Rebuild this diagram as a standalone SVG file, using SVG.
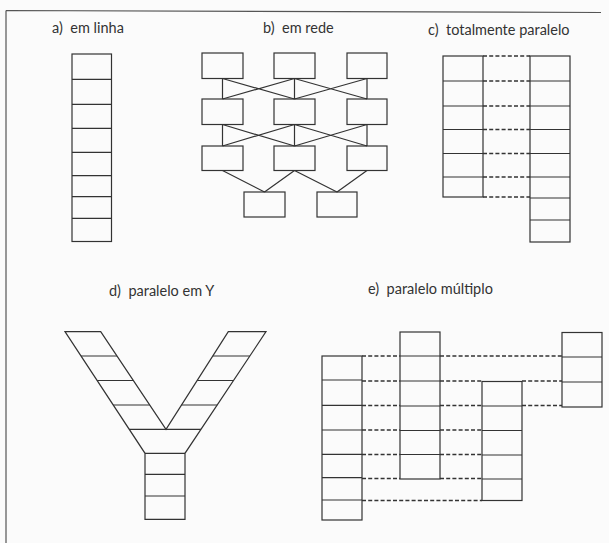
<svg xmlns="http://www.w3.org/2000/svg" width="609" height="543" viewBox="0 0 609 543">
<style>
.bg{fill:#fbfbfb}
.frame{stroke:#555;stroke-width:1.2;fill:none}
.cell{fill:none;stroke:#333;stroke-width:1.2}
.ln{stroke:#333;stroke-width:1.2;fill:none}
.dash{stroke:#333;stroke-width:1.3;fill:none;stroke-dasharray:4 2.2}
.lbl{font-family:Lato,"Open Sans","Liberation Sans",sans-serif;font-size:14.5px;fill:#333;white-space:pre}
</style>
<rect class="bg" x="0" y="0" width="609" height="543"/>
<g id="frame">
<path class="frame" d="M6 10.5 L601 12.5 M6 10.5 L6 543"/>
</g>
<g id="labels">
<text class="lbl" xml:space="preserve" x="52" y="33">a)  em linha</text>
<text class="lbl" xml:space="preserve" x="263" y="33">b)  em rede</text>
<text class="lbl" xml:space="preserve" x="428" y="35">c)  totalmente paralelo</text>
<text class="lbl" xml:space="preserve" x="109" y="296">d)  paralelo em Y</text>
<text class="lbl" xml:space="preserve" x="368" y="294">e)  paralelo múltiplo</text>
</g>
<g id="a-em-linha">
<rect class="cell" x="72" y="54" width="39.5" height="187.5"/>
<path class="ln" d="M72 79.3H111.5M72 104.3H111.5M72 128.3H111.5M72 152.3H111.5M72 175.7H111.5M72 196.7H111.5M72 218.3H111.5"/>
</g>
<g id="b-em-rede">
<g id="b-r1c1"><rect class="cell" x="202" y="53" width="41" height="25.5"/></g>
<g id="b-r1c2"><rect class="cell" x="274" y="53" width="41" height="25.5"/></g>
<g id="b-r1c3"><rect class="cell" x="347" y="53" width="40" height="25.5"/></g>
<g id="b-r2c1"><rect class="cell" x="202" y="99" width="41" height="25.5"/></g>
<g id="b-r2c2"><rect class="cell" x="274" y="99" width="41" height="25.5"/></g>
<g id="b-r2c3"><rect class="cell" x="347" y="99" width="40" height="25.5"/></g>
<g id="b-r3c1"><rect class="cell" x="202" y="146" width="41" height="24.5"/></g>
<g id="b-r3c2"><rect class="cell" x="274" y="146" width="41" height="24.5"/></g>
<g id="b-r3c3"><rect class="cell" x="347" y="146" width="40" height="24.5"/></g>
<g id="b-r4c1"><rect class="cell" x="244" y="192" width="41" height="25"/></g>
<g id="b-r4c2"><rect class="cell" x="317" y="192" width="40" height="25"/></g>
</g>
<g id="connectors">
<path class="ln" d="M222.5 78.5L222.5 99M222.5 78.5L294.5 99M294.5 78.5L222.5 99M294.5 78.5L294.5 99M294.5 78.5L367 99M367 78.5L294.5 99M367 78.5L367 99"/>
<path class="ln" d="M222.5 124.5L222.5 146M222.5 124.5L294.5 146M294.5 124.5L222.5 146M294.5 124.5L294.5 146M294.5 124.5L367 146M367 124.5L294.5 146M367 124.5L367 146"/>
<path class="ln" d="M222.5 170.5L264.5 192M294.5 170.5L264.5 192M294.5 170.5L337 192M367 170.5L337 192"/>
<path class="dash" d="M483 56H530M483 81H530M483 106H530M483 129.5H530M483 153.5H530M483 177H530M483 197H530"/>
<path class="dash" d="M362 356H400M440 356H562M362 381H400M440 381H482M522 381H562M362 405.5H400M440 405.5H482M522 405.5H562M362 430H400M440 430H482M362 454.5H400M440 454.5H482M362 478.5H400M440 478.5H482M362 500.5H482"/>
</g>
<g id="c-totalmente-paralelo">
<g id="c-left">
<rect class="cell" x="443" y="56" width="40" height="141"/>
<path class="ln" d="M443 81H483M443 106H483M443 129.5H483M443 153.5H483M443 177H483"/>
</g>
<g id="c-right">
<rect class="cell" x="530" y="56" width="40" height="186"/>
<path class="ln" d="M530 81H570M530 106H570M530 129.5H570M530 153.5H570M530 177H570M530 198H570M530 220H570"/>
</g>
</g>
<g id="d-paralelo-em-y">
<path class="cell" d="M65 331.7L145 453.3L145 519.3L185 519.3L185 453.3L266 331.7L228.3 331.7L166 429.3L100.7 331.7Z"/>
<path class="ln" d="M81 356H117M97.1 380.5H133.3M113.2 405H149.7M129.2 429.3H201M212.8 356H249.8M197.2 380.5H233.5M181.5 405H217.2M145 453.3H185M145 474.3H185M145 496H185"/>
</g>
<g id="e-paralelo-multiplo">
<g id="e-col1">
<rect class="cell" x="322" y="356" width="40" height="164"/>
<path class="ln" d="M322 380H362M322 405.3H362M322 430H362M322 454.3H362M322 477.7H362M322 500H362"/>
</g>
<g id="e-col2">
<rect class="cell" x="400" y="332" width="40" height="147"/>
<path class="ln" d="M400 356H440M400 381H440M400 406H440M400 430.5H440M400 454.5H440"/>
</g>
<g id="e-col3">
<rect class="cell" x="482" y="381.5" width="40" height="119"/>
<path class="ln" d="M482 406H522M482 430.5H522M482 455H522M482 479H522"/>
</g>
<g id="e-col4">
<rect class="cell" x="562" y="332.5" width="40" height="74.5"/>
<path class="ln" d="M562 357H602M562 382H602"/>
</g>
</g>
</svg>
